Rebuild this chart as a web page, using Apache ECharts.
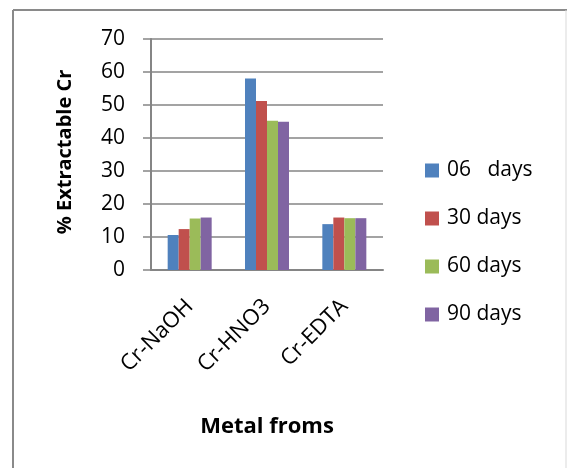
<!DOCTYPE html>
<html>
<head>
<meta charset="utf-8">
<script src="https://cdn.jsdelivr.net/npm/echarts@6/dist/echarts.min.js"></script>
<style>
  html, body { margin: 0; padding: 0; background: #fff; }
  #chart { width: 567px; height: 468px; }
</style>
</head>
<body>
<div id="chart"></div>
<script>
// Extraction forms on the category axis
const categories = ['Cr-NaOH', 'Cr-HNO3', 'Cr-EDTA'];
// Incubation periods (legend entries)
const seriesNames = ['06   days', '30 days', '60 days', '90 days'];
// % extractable Cr per period
const days06 = [10.6, 58.0, 13.9];
const days30 = [12.4, 51.2, 15.9];
const days60 = [15.6, 45.2, 15.7];
const days90 = [15.9, 44.9, 15.7];
const yTicks = [0, 10, 20, 30, 40, 50, 60, 70];

const colors = ['#4F81BD', '#C0504D', '#9BBB59', '#8064A2'];
const values = [days06, days30, days60, days90];
const fontFamily = '"Open Sans", Lato, sans-serif';

const chart = echarts.init(document.getElementById('chart'), null, { renderer: 'canvas' });

chart.setOption({
  animation: false,
  color: colors,
  textStyle: { fontFamily: fontFamily },
  grid: { left: 151, top: 39, width: 232, height: 231, containLabel: false },
  legend: {
    orient: 'vertical',
    left: 425,
    top: 160,
    padding: 0,
    itemWidth: 14,
    itemHeight: 14,
    itemGap: 27,
    icon: 'rect',
    data: seriesNames,
    textStyle: { fontSize: 21, color: '#000', fontFamily: fontFamily, padding: [0, 0, 0, 3] }
  },
  xAxis: {
    type: 'category',
    data: categories,
    axisLine: { lineStyle: { color: '#858585', width: 2 } },
    axisTick: { show: false },
    axisLabel: {
      rotate: 45,
      margin: 33,
      fontSize: 22,
      color: '#000',
      fontFamily: fontFamily
    }
  },
  yAxis: {
    type: 'value',
    min: yTicks[0],
    max: yTicks[yTicks.length - 1],
    interval: 10,
    axisLine: { show: true, lineStyle: { color: '#858585', width: 2 } },
    axisTick: { show: true, inside: false, length: 8, lineStyle: { color: '#858585', width: 1.5 } },
    splitLine: { show: true, lineStyle: { color: '#858585', width: 1.5 } },
    axisLabel: {
      margin: 26,
      fontSize: 21,
      color: '#000',
      fontFamily: fontFamily,
      formatter: function (v) { return yTicks.indexOf(v) >= 0 ? String(v) : ''; }
    }
  },
  series: seriesNames.map(function (name, i) {
    return {
      name: name,
      type: 'bar',
      data: values[i],
      barWidth: 11,
      barGap: '0%',
      itemStyle: { color: colors[i] }
    };
  }),
  graphic: [
    // outer frame
    { type: 'line', shape: { x1: 13, y1: 10, x2: 13, y2: 468 }, style: { stroke: '#8a8a8a', lineWidth: 2 } },
    { type: 'line', shape: { x1: 13, y1: 10, x2: 567, y2: 10 }, style: { stroke: '#8a8a8a', lineWidth: 2 } },
    { type: 'line', shape: { x1: 566, y1: 10, x2: 566, y2: 468 }, style: { stroke: '#d9d9d9', lineWidth: 1 } },
    // y-axis title
    {
      type: 'text',
      x: 65, y: 152,
      rotation: Math.PI / 2,
      style: {
        text: '% Extractable Cr',
        fontSize: 20,
        fontWeight: 'bold',
        fontFamily: fontFamily,
        fill: '#000',
        align: 'center',
        verticalAlign: 'middle'
      }
    },
    // x-axis title
    {
      type: 'text',
      x: 267, y: 427,
      style: {
        text: 'Metal froms',
        fontSize: 22,
        fontWeight: 'bold',
        fontFamily: fontFamily,
        fill: '#000',
        align: 'center',
        verticalAlign: 'middle'
      }
    }
  ]
});
</script>
</body>
</html>
